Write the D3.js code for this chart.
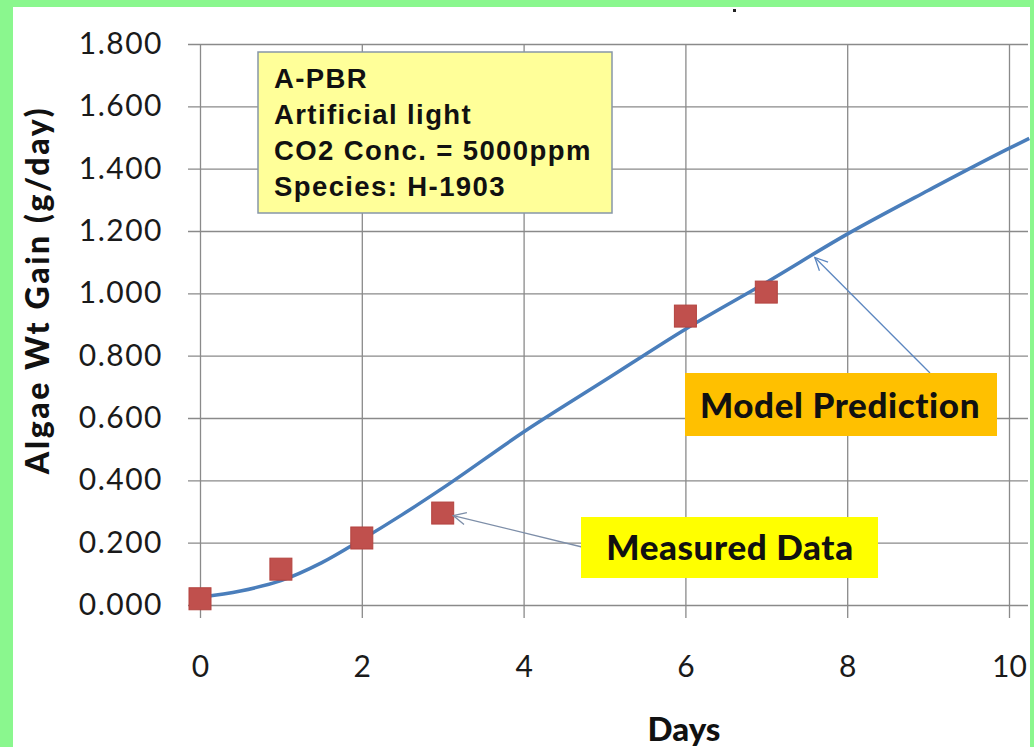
<!DOCTYPE html>
<html>
<head>
<meta charset="utf-8">
<script src="https://cdn.jsdelivr.net/npm/d3@7"></script>
<style>
  body { margin: 0; background: #8af78e; }
  svg { display: block; }
</style>
</head>
<body>
<div id="viz"></div>
<script>
// measured points (days, g/day)
const measuredDays = [0, 1, 2, 3, 6, 7];
const measuredGain = [0.020, 0.115, 0.215, 0.295, 0.927, 1.004];

// model prediction curve
const modelDays = [0, 0.5, 1, 1.5, 2, 2.5, 3, 4, 5, 6, 7, 8, 9, 10, 10.25];
const modelGain = [0.025, 0.045, 0.078, 0.135, 0.21, 0.29, 0.375, 0.555, 0.72, 0.885, 1.035, 1.19, 1.33, 1.465, 1.497];

const xTicks = [0, 2, 4, 6, 8, 10];
const yTicks = [0, 0.2, 0.4, 0.6, 0.8, 1.0, 1.2, 1.4, 1.6, 1.8];

const infoLines = ['A-PBR', 'Artificial light', 'CO2 Conc. = 5000ppm', 'Species: H-1903'];

const w = 1034;
const h = 747;

const svg = d3.select('#viz').
append('svg').
attr('width', w).
attr('height', h);

// white panel inside the green frame
svg.append('defs').append('clipPath').attr('id', 'panel').
append('rect').attr('x', 13).attr('y', 7).attr('width', 1017).attr('height', 740);

svg.append('rect').attr('x', 13).attr('y', 7).attr('width', 1017).attr('height', 740).attr('fill', '#fff');

const g = svg.append('g').attr('clip-path', 'url(#panel)');

const xScale = d3.scaleLinear().domain([0, 10]).range([200, 1009]);
const yScale = d3.scaleLinear().domain([0, 1.8]).range([605, 44]);

const font = 'Lato, "Open Sans", sans-serif';

// y axis with grid
const yAxis = d3.axisLeft(yScale).
tickValues(yTicks).
tickFormat(d3.format('.3f')).
tickSizeInner(-(1028 - 188)).
tickSizeOuter(0).
tickPadding(25);

const gy = g.append('g').
attr('transform', 'translate(188,0)').
call(yAxis);
gy.select('.domain').remove();
gy.selectAll('line').attr('stroke', '#8a8a8a').attr('stroke-width', 1.3);
gy.selectAll('text').
attr('font-family', font).
attr('font-size', 30).
attr('letter-spacing', 1.5).
attr('fill', '#1a1a1a');

// x axis with grid
const xAxis = d3.axisBottom(xScale).
tickValues(xTicks).
tickSizeInner(-(618 - 44)).
tickSizeOuter(0).
tickPadding(38);

const gx = g.append('g').
attr('transform', 'translate(0,618)').
call(xAxis);
gx.select('.domain').remove();
gx.selectAll('line').attr('stroke', '#8a8a8a').attr('stroke-width', 1.3);
gx.selectAll('text').
attr('font-family', font).
attr('font-size', 30).
attr('fill', '#1a1a1a');

// axis titles
g.append('text').
attr('transform', 'translate(49,290) rotate(-90)').
attr('text-anchor', 'middle').
attr('font-family', font).
attr('font-weight', 900).
attr('font-size', 32).
attr('letter-spacing', 2.6).
attr('fill', '#111').
text('Algae Wt Gain (g/day)');

g.append('text').
attr('x', 684).
attr('y', 741).
attr('text-anchor', 'middle').
attr('font-family', font).
attr('font-weight', 900).
attr('font-size', 33).
attr('fill', '#111').
text('Days');

// model curve
const model = modelDays.map((d, i) => [d, modelGain[i]]);
const line = d3.line().
x(d => xScale(d[0])).
y(d => yScale(d[1])).
curve(d3.curveMonotoneX);

g.append('path').
datum(model).
attr('d', line).
attr('fill', 'none').
attr('stroke', '#4a7ebb').
attr('stroke-width', 3.5);

// measured squares
const measured = measuredDays.map((d, i) => [d, measuredGain[i]]);
const sq = 22;
g.selectAll('rect.pt').
data(measured).
enter().
append('rect').
attr('class', 'pt').
attr('x', d => xScale(d[0]) - sq / 2).
attr('y', d => yScale(d[1]) - sq / 2).
attr('width', sq).
attr('height', sq).
attr('fill', '#c0504d').
attr('stroke', '#b3433f').
attr('stroke-width', 1);

// info box
g.append('rect').
attr('x', 258).attr('y', 52).attr('width', 354).attr('height', 161).
attr('fill', '#ffff99').
attr('stroke', '#8796a8').
attr('stroke-width', 1.5);

g.selectAll('text.info').
data(infoLines).
enter().
append('text').
attr('class', 'info').
attr('x', 274).
attr('y', (d, i) => 88 + i * 36).
attr('font-family', '"Liberation Sans", Arial, sans-serif').
attr('font-weight', 'bold').
attr('font-size', 27.5).
attr('letter-spacing', 1.4).
attr('fill', '#111').
text(d => d);

// arrows
const arrowHead = (x1, y1, x2, y2, col) => {
  const a = Math.atan2(y1 - y2, x1 - x2);
  const len = 14, spread = 0.45;
  g.append('path').
  attr('d', 'M' + (x2 + len * Math.cos(a + spread)) + ',' + (y2 + len * Math.sin(a + spread)) +
    'L' + x2 + ',' + y2 +
    'L' + (x2 + len * Math.cos(a - spread)) + ',' + (y2 + len * Math.sin(a - spread))).
  attr('fill', 'none').
  attr('stroke', col).
  attr('stroke-width', 1.3);
  g.append('line').
  attr('x1', x1).attr('y1', y1).attr('x2', x2).attr('y2', y2).
  attr('stroke', col).
  attr('stroke-width', 1.3);
};

arrowHead(930, 373, xScale(7.6), yScale(1.115), '#5b86c0');
arrowHead(582, 547, xScale(3.13), yScale(0.287), '#7d8ea8');

// callout labels
g.append('rect').
attr('x', 685).attr('y', 373).attr('width', 312).attr('height', 63).
attr('fill', '#ffc000');
g.append('text').
attr('x', 840).attr('y', 418).
attr('text-anchor', 'middle').
attr('font-family', font).
attr('font-weight', 900).
attr('font-size', 35).
attr('letter-spacing', 0.6).
attr('fill', '#111').
text('Model Prediction');

g.append('rect').
attr('x', 581).attr('y', 517).attr('width', 297).attr('height', 61).
attr('fill', '#ffff00');
g.append('text').
attr('x', 730).attr('y', 560).
attr('text-anchor', 'middle').
attr('font-family', font).
attr('font-weight', 900).
attr('font-size', 35).
attr('letter-spacing', 0.6).
attr('fill', '#111').
text('Measured Data');

// stray dot at the top
g.append('rect').attr('x', 733).attr('y', 9).attr('width', 3).attr('height', 3).attr('fill', '#222');
</script>
</body>
</html>
